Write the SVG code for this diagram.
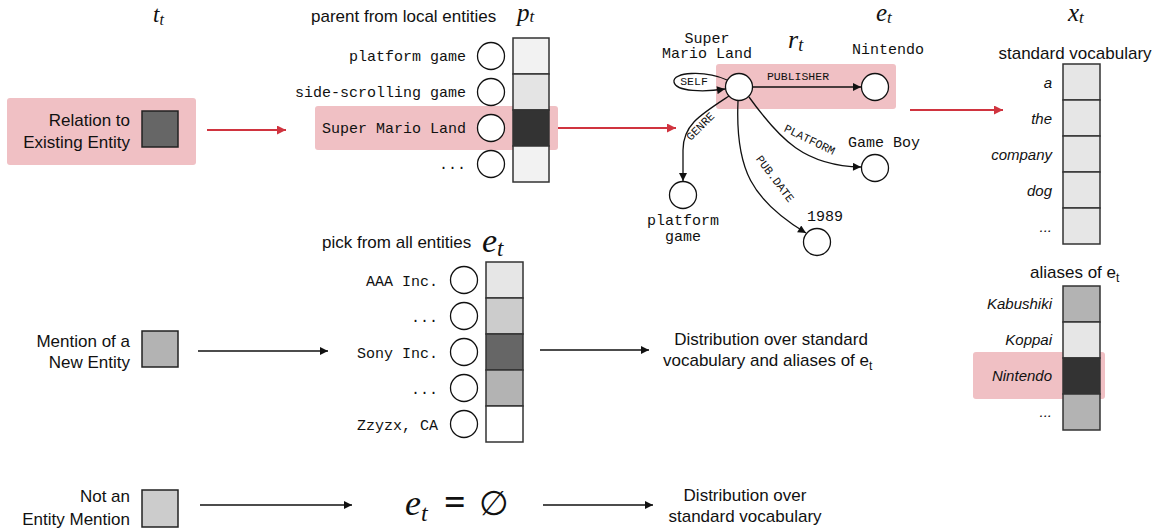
<svg xmlns="http://www.w3.org/2000/svg" width="1164" height="532" viewBox="0 0 1164 532">
<style>
.sans{font-family:"Liberation Sans",Arial,sans-serif;font-size:17px;fill:#111}
.mono{font-family:"Liberation Mono","Courier New",monospace;font-size:15px;fill:#111}
.lbl{font-family:"Liberation Mono","Courier New",monospace;font-size:11.5px;fill:#111}
.ital{font-family:"Liberation Sans",Arial,sans-serif;font-size:15px;font-style:italic;fill:#111}
.math{font-family:"Liberation Serif","DejaVu Serif",serif;font-style:italic;fill:#111}
.end{text-anchor:end}
.mid{text-anchor:middle}
.hl{fill:#f0c0c4}
.node{fill:#fff;stroke:#111;stroke-width:1.3}
.cell{stroke:#333;stroke-width:1.5}
.edge{fill:none;stroke:#111;stroke-width:1.3}
.red{fill:none;stroke:#d0343f;stroke-width:2}
.blk{fill:none;stroke:#111;stroke-width:1.3}
</style>
<defs>
<marker id="ah" viewBox="0 0 10 10" refX="10" refY="5" markerWidth="11" markerHeight="8" markerUnits="userSpaceOnUse" orient="auto"><path d="M0,0 L10,5 L0,10 z" fill="#111"/></marker>
<marker id="ahr" viewBox="0 0 10 10" refX="10" refY="5" markerWidth="13" markerHeight="9" markerUnits="userSpaceOnUse" orient="auto"><path d="M0,0 L10,5 L0,10 z" fill="#d0343f"/></marker>
</defs>
<rect width="1164" height="532" fill="#fff"/>

<!-- headings -->
<g id="headings">
<text class="math" x="153" y="22" font-size="23">t<tspan font-size="16" dy="3">t</tspan></text>
<text class="math" x="517" y="21" font-size="25">p<tspan font-size="17" dy="1">t</tspan></text>
<text class="math" x="788" y="48" font-size="26">r<tspan font-size="18" dy="3">t</tspan></text>
<text class="math" x="876" y="21" font-size="25">e<tspan font-size="17" dy="2">t</tspan></text>
<text class="math" x="1068" y="21" font-size="25">x<tspan font-size="17" dy="2">t</tspan></text>
</g>

<!-- type nodes -->
<g id="type-existing">
<rect class="hl" x="7" y="98" width="189" height="67" rx="3"/>
<text class="sans end" x="130" y="126">Relation to</text>
<text class="sans end" x="130" y="148">Existing Entity</text>
<rect x="142" y="111" width="36" height="36" fill="#666" stroke="#222" stroke-width="1.5"/>
</g>
<g id="type-new">
<text class="sans end" x="130" y="347">Mention of a</text>
<text class="sans end" x="130" y="368">New Entity</text>
<rect x="142" y="331" width="36" height="36" fill="#b3b3b3" stroke="#222" stroke-width="1.5"/>
</g>
<g id="type-none">
<text class="sans end" x="130" y="502">Not an</text>
<text class="sans end" x="130" y="525">Entity Mention</text>
<rect x="142" y="490" width="36" height="37" fill="#cccccc" stroke="#222" stroke-width="1.5"/>
</g>

<!-- parent from local entities -->
<g id="parent-list">
<text class="sans" x="311" y="22">parent from local entities</text>
<rect class="hl" x="315" y="106" width="243" height="44" rx="3"/>
<text class="mono end" x="466" y="61">platform game</text>
<text class="mono end" x="466" y="97">side-scrolling game</text>
<text class="mono end" x="466" y="133">Super Mario Land</text>
<text class="mono end" x="466" y="169">...</text>
<circle class="node" cx="491" cy="56" r="13.5"/>
<circle class="node" cx="491" cy="92" r="13.5"/>
<circle class="node" cx="491" cy="128" r="13.5"/>
<circle class="node" cx="491" cy="164" r="13.5"/>
<rect class="cell" x="513" y="38" width="36" height="36" fill="#f2f2f2"/>
<rect class="cell" x="513" y="74" width="36" height="36" fill="#e4e4e4"/>
<rect class="cell" x="513" y="110" width="36" height="36" fill="#333"/>
<rect class="cell" x="513" y="146" width="36" height="36" fill="#f2f2f2"/>
</g>

<!-- relation graph -->
<g id="graph">
<rect class="hl" x="716" y="64" width="180" height="45" rx="3"/>
<text class="mono mid" x="707" y="43">Super</text>
<text class="mono mid" x="707" y="58">Mario Land</text>
<text class="mono mid" x="888" y="54">Nintendo</text>
<text class="mono mid" x="884" y="147">Game Boy</text>
<text class="mono mid" x="825" y="221">1989</text>
<text class="mono mid" x="683" y="225">platform</text>
<text class="mono mid" x="683" y="241">game</text>
<text class="lbl mid" x="798" y="80">PUBLISHER</text>
<text class="lbl mid" x="694" y="85">SELF</text>
<text class="lbl mid" transform="translate(703,129) rotate(-45)">GENRE</text>
<text class="lbl mid" transform="translate(772,181) rotate(53)">PUB.DATE</text>
<text class="lbl mid" transform="translate(808,143) rotate(26)">PLATFORM</text>
</g>
<g id="graph-edges">
<path class="edge" d="M727,80 C705,70 672,72 674,82 C676,92 705,92 725,89" marker-end="url(#ah)"/>
<line class="edge" x1="753" y1="87" x2="861" y2="87" marker-end="url(#ah)"/>
<path class="edge" d="M729,96 C700,115 683,125 683,150 L683,181" marker-end="url(#ah)"/>
<path class="edge" d="M738,101 C735,170 752,200 806,233" marker-end="url(#ah)"/>
<path class="edge" d="M749,97 C780,140 805,166 861,167" marker-end="url(#ah)"/>
</g>
<g id="graph-nodes">
<circle class="node" cx="739" cy="87" r="13.5"/>
<circle class="node" cx="875" cy="87" r="13.5"/>
<circle class="node" cx="875" cy="168" r="13.5"/>
<circle class="node" cx="817" cy="242" r="13.5"/>
<circle class="node" cx="683" cy="195" r="13.5"/>
</g>

<!-- standard vocabulary -->
<g id="vocab">
<text class="sans mid" x="1075" y="59">standard vocabulary</text>
<text class="ital end" x="1052" y="88">a</text>
<text class="ital end" x="1052" y="124">the</text>
<text class="ital end" x="1052" y="160">company</text>
<text class="ital end" x="1052" y="196">dog</text>
<text class="ital end" x="1052" y="232">...</text>
<rect class="cell" x="1063" y="64" width="37" height="36" fill="#e6e6e6"/>
<rect class="cell" x="1063" y="100" width="37" height="36" fill="#e6e6e6"/>
<rect class="cell" x="1063" y="136" width="37" height="36" fill="#e6e6e6"/>
<rect class="cell" x="1063" y="172" width="37" height="36" fill="#e6e6e6"/>
<rect class="cell" x="1063" y="208" width="37" height="36" fill="#e6e6e6"/>
</g>

<!-- aliases -->
<g id="aliases">
<text class="sans" x="1030" y="278">aliases of e<tspan font-size="12" dy="4">t</tspan></text>
<rect class="hl" x="973" y="352" width="132" height="47" rx="3"/>
<text class="ital end" x="1052" y="309">Kabushiki</text>
<text class="ital end" x="1052" y="345">Koppai</text>
<text class="ital end" x="1052" y="381">Nintendo</text>
<text class="ital end" x="1052" y="417">...</text>
<rect class="cell" x="1063" y="286" width="37" height="36" fill="#b3b3b3"/>
<rect class="cell" x="1063" y="322" width="37" height="36" fill="#e6e6e6"/>
<rect class="cell" x="1063" y="358" width="37" height="36" fill="#333"/>
<rect class="cell" x="1063" y="394" width="37" height="36" fill="#b3b3b3"/>
</g>

<!-- pick from all entities -->
<g id="all-entities">
<text class="sans" x="322" y="248">pick from all entities</text>
<text class="math" x="482" y="252" font-size="34">e<tspan font-size="23" dy="4">t</tspan></text>
<text class="mono end" x="438" y="286">AAA Inc.</text>
<text class="mono end" x="438" y="322">...</text>
<text class="mono end" x="438" y="358">Sony Inc.</text>
<text class="mono end" x="438" y="394">...</text>
<text class="mono end" x="438" y="430">Zzyzx, CA</text>
<circle class="node" cx="464" cy="280" r="13.5"/>
<circle class="node" cx="464" cy="316" r="13.5"/>
<circle class="node" cx="464" cy="352" r="13.5"/>
<circle class="node" cx="464" cy="388" r="13.5"/>
<circle class="node" cx="464" cy="424" r="13.5"/>
<rect class="cell" x="486" y="262" width="37" height="36" fill="#e6e6e6"/>
<rect class="cell" x="486" y="298" width="37" height="36" fill="#cccccc"/>
<rect class="cell" x="486" y="334" width="37" height="36" fill="#666"/>
<rect class="cell" x="486" y="370" width="37" height="36" fill="#b3b3b3"/>
<rect class="cell" x="486" y="406" width="37" height="36" fill="#fff"/>
</g>

<g id="dist-new">
<text class="sans mid" x="771" y="345">Distribution over standard</text>
<text class="sans" x="663" y="366">vocabulary and aliases of e<tspan font-size="12" dy="4">t</tspan></text>
</g>

<g id="null-entity">
<text class="math" x="405" y="515" font-size="36">e<tspan font-size="24" dy="6">t</tspan></text>
<text x="444" y="515" font-family="'Liberation Serif','DejaVu Serif',serif" font-size="38" font-weight="bold" fill="#111">=</text>
<text x="479" y="515" font-family="'Liberation Serif','DejaVu Serif',serif" font-size="34" fill="#111">∅</text>
</g>

<g id="dist-std">
<text class="sans mid" x="745" y="501">Distribution over</text>
<text class="sans mid" x="745" y="522">standard vocabulary</text>
</g>

<!-- connectors -->
<g id="connectors">
<line class="red" x1="207" y1="130" x2="286" y2="130" marker-end="url(#ahr)"/>
<line class="red" x1="558" y1="128" x2="676" y2="128" marker-end="url(#ahr)"/>
<line class="red" x1="910" y1="110" x2="1003" y2="110" marker-end="url(#ahr)"/>
<line class="blk" x1="198" y1="351" x2="328" y2="351" marker-end="url(#ah)"/>
<line class="blk" x1="540" y1="350" x2="649" y2="350" marker-end="url(#ah)"/>
<line class="blk" x1="200" y1="505" x2="352" y2="505" marker-end="url(#ah)"/>
<line class="blk" x1="543" y1="505" x2="653" y2="505" marker-end="url(#ah)"/>
</g>
</svg>
